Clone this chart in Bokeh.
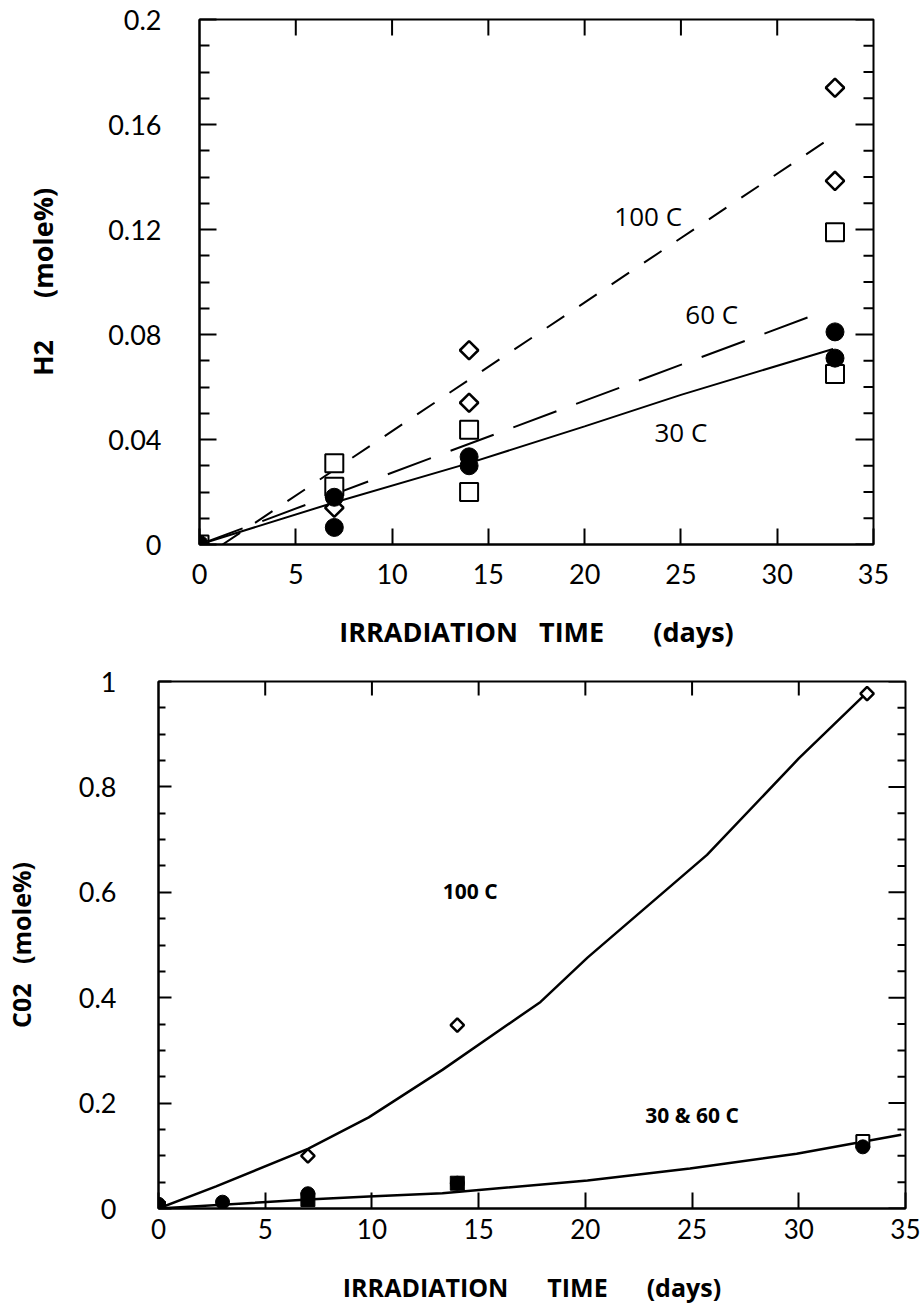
import math
from bokeh.plotting import figure
from bokeh.models import FixedTicker, Range1d, NumeralTickFormatter
from bokeh.core.properties import value
from bokeh.embed import file_html
from bokeh.resources import INLINE

FONT = "Open Sans"
TICK_FONT = "Lato"
NB = "\u00a0"

# ---------------- data: H2 panel ----------------
x_ticks = [0, 5, 10, 15, 20, 25, 30, 35]
x_inner_ticks = [5, 10, 15, 20, 25, 30]
X_MAX = 35

h2_yticks = [0, 0.04, 0.08, 0.12, 0.16, 0.2]
h2_yminor = [0.01, 0.02, 0.03, 0.05, 0.06, 0.07, 0.09, 0.10, 0.11,
             0.13, 0.14, 0.15, 0.17, 0.18, 0.19]
H2_MAX = 0.2

# 30 C (filled circles)
h2_30_x = [0, 7, 7, 14, 14, 33, 33]
h2_30_y = [0, 0.018, 0.0065, 0.0334, 0.030, 0.081, 0.071]
# 60 C (open squares)
h2_60_x = [0, 7, 7, 14, 14, 33, 33]
h2_60_y = [0, 0.031, 0.022, 0.0437, 0.020, 0.119, 0.065]
# 100 C (open diamonds)
h2_100_x = [0, 7, 14, 14, 33, 33]
h2_100_y = [0, 0.014, 0.074, 0.054, 0.174, 0.1385]

# fitted lines
h2_fit100_x = [1.2, 32.8]
h2_fit100_y = [0.0, 0.155]
h2_fit60_x = [0.0, 32.5]
h2_fit60_y = [0.0, 0.089]
h2_fit30_x = [0, 7, 14, 20, 25, 32.9]
h2_fit30_y = [0, 0.016, 0.031, 0.045, 0.057, 0.0745]

h2_label_text = ["100 C", "60 C", "30 C"]
h2_label_x = [23.3, 26.6, 25.0]
h2_label_y = [0.125, 0.0877, 0.043]

# ---------------- data: CO2 panel ----------------
co2_yticks = [0, 0.2, 0.4, 0.6, 0.8, 1.0]
co2_yminor = [0.05, 0.1, 0.15, 0.25, 0.3, 0.35, 0.45, 0.5, 0.55,
              0.65, 0.7, 0.75, 0.85, 0.9, 0.95]
CO2_MAX = 1.0

co2_100_x = [7, 14, 33.2]
co2_100_y = [0.100, 0.348, 0.977]
co2_circ_x = [0, 3, 7, 14, 33]
co2_circ_y = [0.008, 0.012, 0.028, 0.048, 0.117]
co2_fsq_x = [0, 7, 14]
co2_fsq_y = [0.0, 0.017, 0.048]
co2_osq_x = [33]
co2_osq_y = [0.127]

co2_fit100_x = [0, 2.7, 7, 9.85, 13.3, 17.9, 20.1, 25.7, 30, 33.3]
co2_fit100_y = [0, 0.042, 0.113, 0.173, 0.263, 0.392, 0.476, 0.671, 0.854, 0.983]
co2_fit3060_x = [0, 7, 9.85, 13.3, 20.1, 24.9, 29.9, 34.8]
co2_fit3060_y = [0, 0.017, 0.023, 0.029, 0.053, 0.076, 0.104, 0.140]

co2_label_text = ["100 C", "30 & 60 C"]
co2_label_x = [14.6, 25.0]
co2_label_y = [0.603, 0.178]


def style_axis(ax, major_in, minor_in, font_size, standoff):
    ax.axis_line_width = 2
    ax.axis_line_color = "black"
    ax.major_tick_in = major_in
    ax.major_tick_out = 0
    ax.minor_tick_in = minor_in
    ax.minor_tick_out = 0
    ax.major_tick_line_width = 2
    ax.minor_tick_line_width = 2
    ax.major_tick_line_color = "black"
    ax.minor_tick_line_color = "black"
    ax.major_label_text_font = TICK_FONT
    ax.major_label_text_font_size = font_size
    ax.major_label_text_color = "black"
    ax.major_label_standoff = standoff
    ax.axis_label_text_font = FONT
    ax.axis_label_text_font_style = "bold"
    ax.axis_label_text_color = "black"


def base_fig(width, height, yr, left, right, top, bottom):
    p = figure(width=width, height=height, x_range=Range1d(0, X_MAX), y_range=yr,
               output_backend="svg", toolbar_location=None,
               min_border_left=left, min_border_right=right,
               min_border_top=top, min_border_bottom=bottom)
    p.grid.visible = False
    p.outline_line_color = "black"
    p.outline_line_width = 2
    p.background_fill_color = "white"
    p.border_fill_color = "white"
    return p


def mirror_ticks(p, ymax, yticks, yminor, top_len, right_major, right_minor):
    # inward tick marks on the top and right frame edges (half of each dash
    # falls outside the frame and is clipped away)
    p.scatter(x_inner_ticks, [ymax] * len(x_inner_ticks), marker="dash",
              angle=math.pi / 2, size=2 * top_len, line_color="black", line_width=2)
    p.scatter([X_MAX] * len(yticks), yticks, marker="dash",
              size=2 * right_major, line_color="black", line_width=2)
    p.scatter([X_MAX] * len(yminor), yminor, marker="dash",
              size=2 * right_minor, line_color="black", line_width=2)


# ================= Top panel (H2) =================
p1 = base_fig(920, 652, Range1d(0, H2_MAX), 199, 47, 19, 106)

p1.xaxis.ticker = FixedTicker(ticks=x_ticks, minor_ticks=[])
style_axis(p1.xaxis[0], 16, 0, "27px", 19)
p1.xaxis.axis_label = "IRRADIATION" + NB * 3 + "TIME" + NB * 7 + "(days)"
p1.xaxis.axis_label_text_font_size = "27px"
p1.xaxis.axis_label_standoff = 26

p1.yaxis.ticker = FixedTicker(ticks=h2_yticks, minor_ticks=h2_yminor)
p1.yaxis.formatter = NumeralTickFormatter(format="0.[00]")
style_axis(p1.yaxis[0], 17, 10, "27px", 38)
p1.yaxis.axis_label = "H2" + NB * 6 + "(mole%)"
p1.yaxis.axis_label_text_font_size = "27px"
p1.yaxis.axis_label_standoff = 44

mirror_ticks(p1, H2_MAX, h2_yticks, h2_yminor, 16, 18, 10)

p1.line(h2_fit100_x, h2_fit100_y, line_color="black", line_width=2, line_dash="21 18")
p1.line(h2_fit60_x, h2_fit60_y, line_color="black", line_width=2, line_dash="46 21")
p1.line(h2_fit30_x, h2_fit30_y, line_color="black", line_width=2)

p1.scatter(h2_100_x, h2_100_y, marker="square", angle=0.785398, size=13,
           fill_color="white", line_color="black", line_width=2.5)
p1.scatter(h2_60_x, h2_60_y, marker="square", size=18,
           fill_color="white", line_color="black", line_width=2)
p1.scatter(h2_30_x, h2_30_y, marker="circle", size=18,
           fill_color="black", line_color="black", line_width=1)

p1.text(h2_label_x, h2_label_y, text=h2_label_text, text_font=value(FONT),
        text_font_size="26px", text_align="center", text_baseline="middle",
        text_color="black")

# ================= Bottom panel (CO2) =================
p2 = base_fig(920, 654, Range1d(0, CO2_MAX), 155, 15, 29, 96)

p2.xaxis.ticker = FixedTicker(ticks=x_ticks, minor_ticks=[])
style_axis(p2.xaxis[0], 16, 0, "26px", 10)
p2.xaxis.axis_label = "IRRADIATION" + NB * 6 + "TIME" + NB * 6 + "(days)"
p2.xaxis.axis_label_text_font_size = "25px"
p2.xaxis.axis_label_standoff = 28

p2.yaxis.ticker = FixedTicker(ticks=co2_yticks, minor_ticks=co2_yminor)
p2.yaxis.formatter = NumeralTickFormatter(format="0.[0]")
style_axis(p2.yaxis[0], 13, 7, "27px", 42)
p2.yaxis.axis_label = "C02" + NB * 3 + "(mole%)"
p2.yaxis.axis_label_text_font_size = "25px"
p2.yaxis.axis_label_standoff = 38

mirror_ticks(p2, CO2_MAX, co2_yticks, co2_yminor, 14, 17, 8)

p2.line(co2_fit100_x, co2_fit100_y, line_color="black", line_width=2.5)
p2.line(co2_fit3060_x, co2_fit3060_y, line_color="black", line_width=2.5)

p2.scatter(co2_100_x, co2_100_y, marker="square", angle=0.785398, size=9.5,
           fill_color="white", line_color="black", line_width=2.5)
p2.scatter(co2_fsq_x, co2_fsq_y, marker="square", size=14,
           fill_color="black", line_color="black", line_width=1)
p2.scatter(co2_osq_x, co2_osq_y, marker="square", size=13,
           fill_color="white", line_color="black", line_width=2)
p2.scatter(co2_circ_x, co2_circ_y, marker="circle", size=14,
           fill_color="black", line_color="black", line_width=1)

p2.text(co2_label_x, co2_label_y, text=co2_label_text, text_font=value(FONT),
        text_font_size="21px", text_font_style="bold", text_align="center",
        text_baseline="middle", text_color="black")

open("out.html", "w").write(file_html([p1, p2], INLINE))
